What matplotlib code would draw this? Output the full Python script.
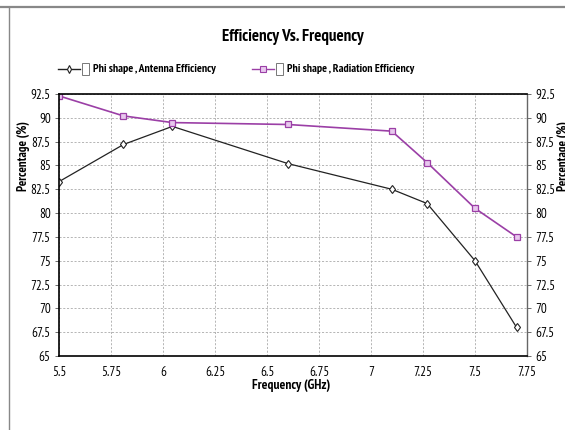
import matplotlib
matplotlib.use('Agg')
import matplotlib.pyplot as plt
from matplotlib.lines import Line2D
from matplotlib.patches import Rectangle
from matplotlib import font_manager

# data
freq = [5.5, 5.81, 6.045, 6.6, 7.1, 7.27, 7.5, 7.7]
antenna_eff = [83.3, 87.2, 89.1, 85.2, 82.5, 81.0, 75.0, 68.0]
radiation_eff = [92.3, 90.2, 89.5, 89.3, 88.6, 85.3, 80.5, 77.5]
x_ticks = [5.5, 5.75, 6, 6.25, 6.5, 6.75, 7, 7.25, 7.5, 7.75]
x_labels = ['5.5', '5.75', '6', '6.25', '6.5', '6.75', '7', '7.25', '7.5', '7.75']
y_ticks = [65, 67.5, 70, 72.5, 75, 77.5, 80, 82.5, 85, 87.5, 90, 92.5]
y_labels = ['65', '67.5', '70', '72.5', '75', '77.5', '80', '82.5', '85', '87.5', '90', '92.5']
series_names = ['Phi shape , Antenna Efficiency', 'Phi shape , Radiation Efficiency']

# pick a narrow font with a bold face, fall back to condensed DejaVu
bold_faces = {f.name for f in font_manager.fontManager.ttflist if f.weight in (700, 'bold')}
family = None
for cand in ['Arial Narrow', 'Liberation Sans Narrow', 'PT Sans Narrow', 'Pragati Narrow',
             'Roboto Condensed', 'Archivo Narrow', 'Asap Condensed']:
    if cand in bold_faces:
        family = cand
        break
if family:
    plt.rcParams['font.family'] = [family, 'DejaVu Sans']
else:
    plt.rcParams['font.family'] = ['DejaVu Sans']
    plt.rcParams['font.stretch'] = 'condensed'

purple = '#9b3fa6'
W, H = 565, 430
fig = plt.figure(figsize=(W / 100, H / 100), dpi=100)
renderer = fig.canvas.get_renderer()

def fx(px):
    return px / W

def fy(py):
    return 1 - py / H

def fit(t, target, vertical=False):
    # scale font so the text spans about as many pixels as in the picture
    bb = t.get_window_extent(renderer)
    span = bb.height if vertical else bb.width
    t.set_fontsize(t.get_fontsize() * target / span)
    return t.get_fontsize()

ax = fig.add_axes([fx(59), fy(356), fx(527 - 59), (356 - 94) / H])

ax.plot(freq, antenna_eff, color='#222222', lw=0.9, marker='d', ms=4.5,
        mfc='white', mec='#222222', mew=0.8)
ax.plot(freq, radiation_eff, color=purple, lw=1.2, marker='s', ms=4,
        mfc='#e8c8ee', mec=purple, mew=0.9)

ax.set_xlim(5.5, 7.75)
ax.set_ylim(65, 92.5)
ax.set_xticks(x_ticks)
ax.set_xticklabels(x_labels)
ax.set_yticks(y_ticks)
ax.set_yticklabels(y_labels)

probe = fig.text(0, 0, '92.5', fontsize=10)
tick_size = fit(probe, 20)
probe.remove()

ax.tick_params(axis='both', labelsize=tick_size, length=3, width=0.6, color='#555555')
ax.tick_params(axis='y', which='both', right=True, labelright=True, pad=3)
ax.tick_params(axis='x', length=0, pad=7)
ax.grid(True, color='#aaaaaa', ls=(0, (2.5, 2)), lw=0.6)

for side in ['top', 'left', 'bottom']:
    ax.spines[side].set_color('black')
    ax.spines[side].set_linewidth(1.2)
ax.spines['right'].set_color('#666666')
ax.spines['right'].set_linewidth(1.0)

xl = fig.text(fx(291), fy(385), 'Frequency (GHz)', fontsize=10,
              fontweight='bold', ha='center', va='center')
fit(xl, 78)

for px in [23, 564]:
    yl = fig.text(fx(px), fy(156), 'Percentage (%)', rotation=90, fontsize=10,
                  fontweight='bold', ha='center', va='center')
    fit(yl, 70, vertical=True)

title = fig.text(fx(293), fy(37), 'Efficiency Vs. Frequency', fontsize=12,
                 fontweight='bold', ha='center', va='center')
fit(title, 142)

# legend drawn like the original (line, marker, checkbox, text)
legend_rows = [(58, 'd', '#222222', 'white', series_names[0], 124),
               (252, 's', purple, '#e8c8ee', series_names[1], 128)]
for x0, mk, col, face, name, width in legend_rows:
    fig.add_artist(Line2D([fx(x0), fx(x0 + 22)], [fy(69), fy(69)], color=col,
                          lw=1.0, transform=fig.transFigure))
    fig.add_artist(Line2D([fx(x0 + 11)], [fy(69)], color=col, marker=mk,
                          ms=4, mfc=face, mec=col, mew=0.8, transform=fig.transFigure))
    fig.add_artist(Rectangle((fx(x0 + 24), fy(75)), fx(7), 12 / H, fill=False,
                             ec='#777777', lw=0.7, transform=fig.transFigure))
    lt = fig.text(fx(x0 + 35), fy(69), name, fontsize=9, fontweight='bold',
                  ha='left', va='center')
    fit(lt, width)

# window border from the screenshot
fig.add_artist(Line2D([0, 1], [fy(7), fy(7)], color='#888888', lw=1.6,
                      transform=fig.transFigure))
fig.add_artist(Line2D([fx(9), fx(9)], [fy(7), 0], color='#888888', lw=1.0,
                      transform=fig.transFigure))

fig.savefig('out.png', dpi=100)
